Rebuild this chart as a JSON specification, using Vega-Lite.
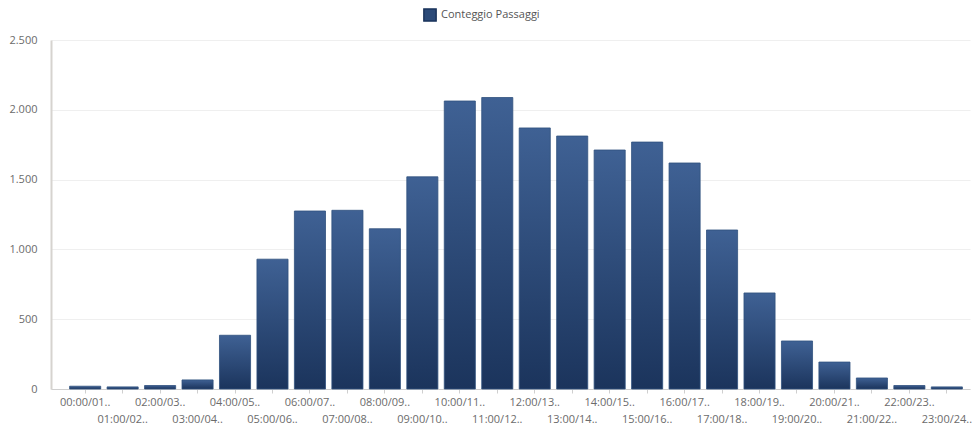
{
  "$schema": "https://vega.github.io/schema/vega-lite/v6.json",
  "width": 919,
  "height": 349,
  "autosize": {"type": "none"},
  "padding": {"left": 51, "top": 40, "right": 6, "bottom": 37},
  "background": "white",
  "data": {"values": [
    {"fascia": "00:00/01:00", "passaggi": 20, "serie": "Conteggio Passaggi"},
    {"fascia": "01:00/02:00", "passaggi": 15, "serie": "Conteggio Passaggi"},
    {"fascia": "02:00/03:00", "passaggi": 25, "serie": "Conteggio Passaggi"},
    {"fascia": "03:00/04:00", "passaggi": 65, "serie": "Conteggio Passaggi"},
    {"fascia": "04:00/05:00", "passaggi": 385, "serie": "Conteggio Passaggi"},
    {"fascia": "05:00/06:00", "passaggi": 930, "serie": "Conteggio Passaggi"},
    {"fascia": "06:00/07:00", "passaggi": 1275, "serie": "Conteggio Passaggi"},
    {"fascia": "07:00/08:00", "passaggi": 1280, "serie": "Conteggio Passaggi"},
    {"fascia": "08:00/09:00", "passaggi": 1148, "serie": "Conteggio Passaggi"},
    {"fascia": "09:00/10:00", "passaggi": 1520, "serie": "Conteggio Passaggi"},
    {"fascia": "10:00/11:00", "passaggi": 2063, "serie": "Conteggio Passaggi"},
    {"fascia": "11:00/12:00", "passaggi": 2088, "serie": "Conteggio Passaggi"},
    {"fascia": "12:00/13:00", "passaggi": 1870, "serie": "Conteggio Passaggi"},
    {"fascia": "13:00/14:00", "passaggi": 1812, "serie": "Conteggio Passaggi"},
    {"fascia": "14:00/15:00", "passaggi": 1712, "serie": "Conteggio Passaggi"},
    {"fascia": "15:00/16:00", "passaggi": 1769, "serie": "Conteggio Passaggi"},
    {"fascia": "16:00/17:00", "passaggi": 1619, "serie": "Conteggio Passaggi"},
    {"fascia": "17:00/18:00", "passaggi": 1139, "serie": "Conteggio Passaggi"},
    {"fascia": "18:00/19:00", "passaggi": 688, "serie": "Conteggio Passaggi"},
    {"fascia": "19:00/20:00", "passaggi": 344, "serie": "Conteggio Passaggi"},
    {"fascia": "20:00/21:00", "passaggi": 193, "serie": "Conteggio Passaggi"},
    {"fascia": "21:00/22:00", "passaggi": 79, "serie": "Conteggio Passaggi"},
    {"fascia": "22:00/23:00", "passaggi": 25, "serie": "Conteggio Passaggi"},
    {"fascia": "23:00/24:00", "passaggi": 15, "serie": "Conteggio Passaggi"}
  ]},
  "config": {
    "font": "Open Sans",
    "view": {"stroke": null},
    "axis": {"labelFont": "Open Sans", "labelColor": "#6b6b6b", "labelFontSize": 11}
  },
  "mark": {
    "type": "bar",
    "fill": {
      "gradient": "linear",
      "x1": 0, "y1": 0, "x2": 0, "y2": 1,
      "stops": [
        {"offset": 0, "color": "#3f6194"},
        {"offset": 1, "color": "#1b345c"}
      ]
    },
    "stroke": "#30507e",
    "strokeWidth": 0.8
  },
  "encoding": {
    "x": {
      "field": "fascia",
      "type": "ordinal",
      "sort": null,
      "scale": {"paddingInner": 0.17, "paddingOuter": 0.35, "align": 0.71},
      "axis": {
        "title": null,
        "labelAngle": 0,
        "labelExpr": "parseInt(substring(datum.value, 0, 2)) % 2 == 0 ? [substring(datum.value, 0, 8) + '..'] : ['', substring(datum.value, 0, 8) + '..']",
        "labelLineHeight": 17,
        "labelPadding": 3,
        "domainColor": "#cfcfcf",
        "tickColor": "#cfcfcf",
        "tickSize": 4
      }
    },
    "y": {
      "field": "passaggi",
      "type": "quantitative",
      "scale": {"domain": [0, 2500]},
      "axis": {
        "title": null,
        "values": [0, 500, 1000, 1500, 2000, 2500],
        "labelExpr": "replace(format(datum.value, ','), ',', '.')",
        "ticks": false,
        "labelPadding": 14,
        "domainColor": "#d6d3cf",
        "domainWidth": 2,
        "gridColor": "#efefef"
      }
    },
    "color": {
      "field": "serie",
      "type": "nominal",
      "scale": {"range": ["#2b4a78"]},
      "legend": {
        "title": null,
        "orient": "none",
        "legendX": 372,
        "legendY": -32,
        "symbolType": "square",
        "symbolSize": 150,
        "symbolStrokeColor": "#1b345c",
        "labelFont": "Open Sans",
        "labelFontSize": 11,
        "labelColor": "#555555"
      }
    }
  }
}
